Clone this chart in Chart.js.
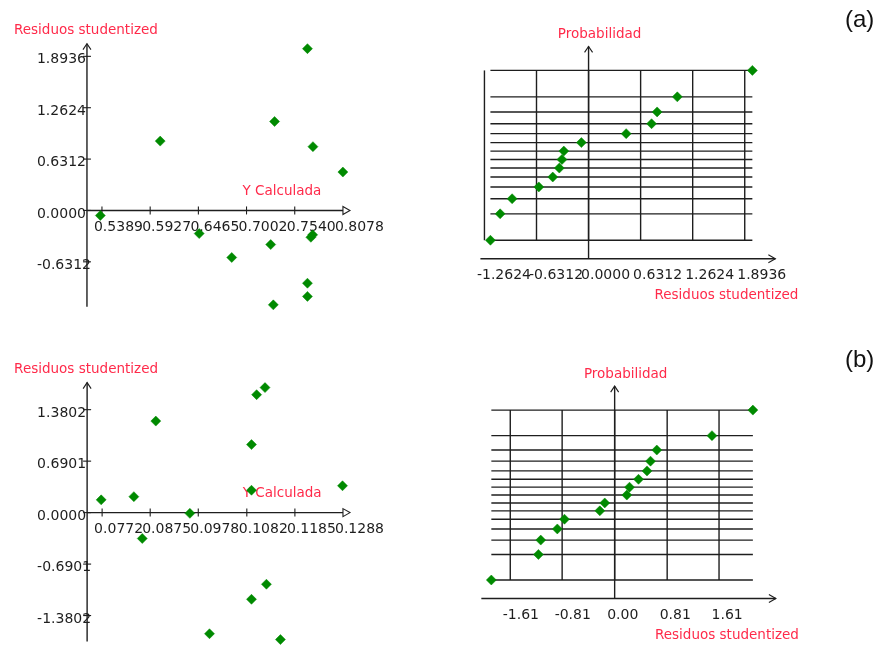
<!DOCTYPE html>
<html>
<head>
<meta charset="utf-8">
<script src="https://cdn.jsdelivr.net/npm/chart.js@4"></script>
<style>
    body { margin: 0; background: #fff; }
    #page { position: relative; width: 878px; height: 646px; overflow: hidden; }
    .panel { position: absolute; }
    .tag { position: absolute; font: 24px "Liberation Sans", Arial, sans-serif; line-height: 1; color: #111; }
</style>
</head>
<body>
<div id="page">
    <div class="panel" style="left:0;top:0;width:440px;height:330px"><canvas id="resA"></canvas></div>
    <div class="panel" style="left:440px;top:0;width:438px;height:330px"><canvas id="probA"></canvas></div>
    <div class="panel" style="left:0;top:330px;width:440px;height:316px"><canvas id="resB"></canvas></div>
    <div class="panel" style="left:440px;top:330px;width:438px;height:316px"><canvas id="probB"></canvas></div>
    <div class="tag" style="left:845px;top:7px">(a)</div>
    <div class="tag" style="left:845px;top:347px">(b)</div>
</div>
<script>
// (a) residuos studentized frente a Y calculada
const yCalcA = [0.5371, 0.6039, 0.6474, 0.6837, 0.7315, 0.7272, 0.7301, 0.7682, 0.7682, 0.7682, 0.7743, 0.7720, 0.7740, 0.8077];
const residA = [-0.062, 0.852, -0.284, -0.578, 1.093, -0.419, -1.160, 1.988, -0.894, -1.056, 0.784, -0.330, -0.300, 0.472];
const xTicksA = [0.5389, 0.5927, 0.6465, 0.7002, 0.7540, 0.8078];
const yTicksA = [-0.6312, 0.0000, 0.6312, 1.2624, 1.8936];

// (a) grafico de probabilidad normal
const residSortA = [-1.190, -1.072, -0.927, -0.603, -0.434, -0.355, -0.323, -0.300, -0.087, 0.456, 0.764, 0.831, 1.076, 1.986];
const probA = [-1.80, -1.24, -0.92, -0.67, -0.46, -0.27, -0.09, 0.09, 0.27, 0.46, 0.67, 0.92, 1.24, 1.80];
const probTicksA = [-1.2624, -0.6312, 0.0000, 0.6312, 1.2624, 1.8936];

// (b) residuos studentized frente a Y calculada
const yCalcB = [0.0770, 0.0840, 0.0858, 0.0887, 0.0960, 0.1002, 0.1092, 0.1092, 0.1092, 0.1103, 0.1121, 0.1124, 0.1154, 0.1287];
const residB = [0.171, 0.214, -0.347, 1.227, -0.010, -1.624, 0.912, 0.300, -1.162, 1.581, 1.676, -0.960, -1.702, 0.360];
const xTicksB = [0.0772, 0.0875, 0.0978, 0.1082, 0.1185, 0.1288];
const yTicksB = [-1.3802, -0.6901, 0.0000, 0.6901, 1.3802];

// (b) grafico de probabilidad normal
const residSortB = [-1.902, -1.176, -1.140, -0.884, -0.774, -0.229, -0.153, 0.188, 0.229, 0.368, 0.499, 0.553, 0.650, 1.501, 2.132];
const probB = [-1.83, -1.28, -0.97, -0.73, -0.52, -0.34, -0.17, 0.00, 0.17, 0.34, 0.52, 0.73, 0.97, 1.28, 1.83];
const probTicksB = [-1.61, -0.81, 0.00, 0.81, 1.61];

const GREEN = '#008a00';
const RED = '#ff2a4a';
const INK = '#1e1e1e';
const NUM_FONT = '14px "DejaVu Sans"';
const TITLE_FONT = '13.5px "DejaVu Sans"';

function line(ctx, x1, y1, x2, y2) {
    ctx.beginPath();
    ctx.moveTo(x1, y1);
    ctx.lineTo(x2, y2);
    ctx.stroke();
}

// ejes cruzados en el origen, con flechas y etiquetas pegadas
const residualAxes = {
    id: 'residualAxes',
    beforeDatasetsDraw(chart, args, opts) {
        const { ctx, scales: { x, y } } = chart;
        const ys = chart.data.datasets[0].data.map(p => p.y);
        const ax = x.getPixelForValue(opts.xTicks[0]) - 15;
        const ay = y.getPixelForValue(0);
        const top = y.getPixelForValue(Math.max(...ys)) - 5;
        const bottom = y.getPixelForValue(Math.min(...ys)) + 2;
        const last = x.getPixelForValue(opts.xTicks[opts.xTicks.length - 1]);

        ctx.save();
        ctx.strokeStyle = INK;
        ctx.lineWidth = 1.4;
        line(ctx, ax, top, ax, bottom);
        line(ctx, ax, ay, last, ay);

        ctx.lineWidth = 1.1;
        ctx.beginPath();
        ctx.moveTo(ax - 4, top + 6);
        ctx.lineTo(ax, top);
        ctx.lineTo(ax + 4, top + 6);
        ctx.stroke();

        ctx.beginPath();
        ctx.moveTo(last, ay - 4);
        ctx.lineTo(last + 7, ay);
        ctx.lineTo(last, ay + 4);
        ctx.closePath();
        ctx.stroke();

        ctx.fillStyle = INK;
        ctx.font = NUM_FONT;
        ctx.textAlign = 'left';
        ctx.textBaseline = 'middle';
        opts.yTicks.forEach(v => {
            const py = y.getPixelForValue(v);
            line(ctx, ax - 4, py, ax + 4, py);
            ctx.fillText(v.toFixed(4), ax - 50, py + 3.5);
        });
        opts.xTicks.forEach((v, i) => {
            const px = x.getPixelForValue(v);
            if (i < opts.xTicks.length - 1) line(ctx, px, ay - 4, px, ay + 4);
            ctx.fillText(v.toFixed(4), px - 8, ay + 17);
        });

        ctx.fillStyle = RED;
        ctx.font = TITLE_FONT;
        ctx.fillText('Residuos studentized', ax - 73, top - 13);
        ctx.fillText('Y Calculada', x.getPixelForValue(opts.xTicks[3]) - 4, ay - 19);
        ctx.restore();
    }
};

// rejilla del grafico de probabilidad normal
const probabilityGrid = {
    id: 'probabilityGrid',
    beforeDatasetsDraw(chart, args, opts) {
        const { ctx, scales: { x, y } } = chart;
        const pts = chart.data.datasets[0].data;
        const xs = pts.map(p => p.x);
        const zs = pts.map(p => p.y);
        const left = x.getPixelForValue(Math.min(...xs));
        const right = x.getPixelForValue(Math.max(...xs));
        const top = y.getPixelForValue(Math.max(...zs));
        const bottom = y.getPixelForValue(Math.min(...zs));
        const ax = x.getPixelForValue(0);
        const ay = bottom + 18.5;
        const tip = right + 23;

        ctx.save();
        ctx.strokeStyle = INK;
        ctx.lineWidth = 1.4;
        zs.forEach(z => {
            const py = y.getPixelForValue(z);
            line(ctx, left, py, right, py);
        });

        ctx.fillStyle = INK;
        ctx.font = NUM_FONT;
        ctx.textAlign = 'left';
        ctx.textBaseline = 'middle';
        opts.xTicks.forEach(v => {
            const px = x.getPixelForValue(v);
            line(ctx, px, top, px, bottom);
            ctx.fillText(v.toFixed(opts.digits), px - 7.5, ay + 16.7);
        });

        line(ctx, left - 10, ay, tip, ay);
        line(ctx, ax, top - 24, ax, ay);
        ctx.lineWidth = 1.1;
        ctx.beginPath();
        ctx.moveTo(tip - 7, ay - 4);
        ctx.lineTo(tip, ay);
        ctx.lineTo(tip - 7, ay + 4);
        ctx.stroke();
        ctx.beginPath();
        ctx.moveTo(ax - 4, top - 18);
        ctx.lineTo(ax, top - 24);
        ctx.lineTo(ax + 4, top - 18);
        ctx.stroke();

        ctx.fillStyle = RED;
        ctx.font = TITLE_FONT;
        ctx.textAlign = 'center';
        ctx.fillText('Probabilidad', ax + 11, top - 36);
        ctx.textAlign = 'right';
        ctx.fillText('Residuos studentized', tip + 23, ay + 36.5);
        ctx.restore();
    }
};

function makeChart(id, xs, ys, xRange, yRange, plugin, pluginOpts) {
    return new Chart(document.getElementById(id), {
        type: 'scatter',
        data: {
            datasets: [{
                data: xs.map((v, i) => ({ x: v, y: ys[i] })),
                pointStyle: 'rectRot',
                pointRadius: 5,
                backgroundColor: GREEN,
                borderColor: GREEN,
                borderWidth: 0.5,
                clip: false
            }]
        },
        options: {
            responsive: true,
            maintainAspectRatio: false,
            animation: false,
            layout: { padding: 0 },
            scales: {
                x: { type: 'linear', display: false, bounds: 'data', min: xRange[0], max: xRange[1] },
                y: { type: 'linear', display: false, bounds: 'data', min: yRange[0], max: yRange[1] }
            },
            plugins: {
                legend: { display: false },
                tooltip: { enabled: false },
                [plugin.id]: pluginOpts
            }
        },
        plugins: [plugin]
    });
}

makeChart('resA', yCalcA, residA, [0.43127, 0.90995], [-1.4014, 2.5184], residualAxes, { xTicks: xTicksA, yTicks: yTicksA });
makeChart('probA', residSortA, probA, [-1.7346, 3.4427], [-3.586, 3.176], probabilityGrid, { xTicks: probTicksA, digits: 4 });
makeChart('resB', yCalcB, residB, [0.05650, 0.14841], [-1.7145, 2.3745], residualAxes, { xTicks: xTicksB, yTicks: yTicksB });
makeChart('probB', residSortB, probB, [-2.609, 3.977], [-3.133, 3.437], probabilityGrid, { xTicks: probTicksB, digits: 2 });
</script>
</body>
</html>
